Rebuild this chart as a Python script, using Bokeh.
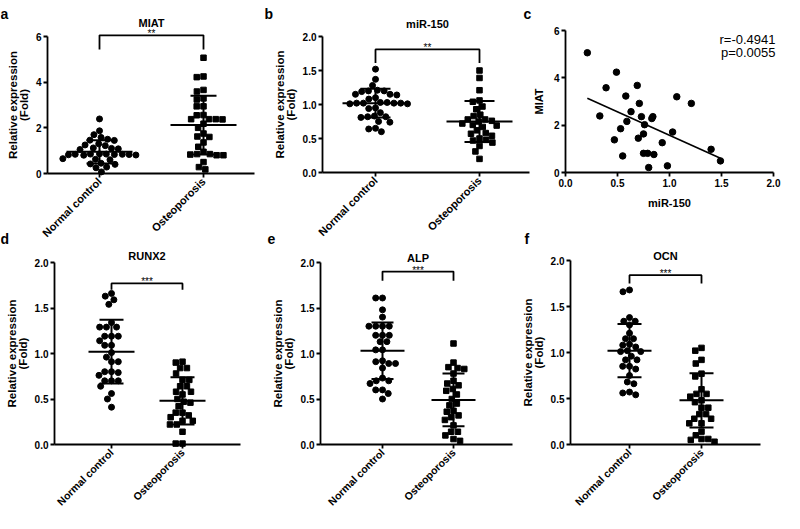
import math
import numpy as np
from bokeh.plotting import figure
from bokeh.layouts import column, row
from bokeh.models import Range1d, Label, FixedTicker, PrintfTickFormatter
from bokeh.embed import file_html
from bokeh.resources import INLINE

FONT = "Liberation Sans"

# ---------------- data ----------------
groups = ["Normal control", "Osteoporosis"]

# a: MIAT
miat_nc = [2.39, 1.87, 1.70, 1.58, 1.50, 1.46, 1.45, 1.30, 1.25, 1.22, 1.12, 1.08, 1.05, 1.10,
           0.86, 0.85, 0.84, 0.83, 0.82, 0.85, 0.81, 0.83, 0.80, 0.84, 0.65, 0.62, 0.60,
           0.45, 0.42, 0.40, 0.28, 0.25, 0.07]
miat_op = [5.07, 4.25, 4.22, 3.66, 3.59, 3.29, 3.24, 2.94, 2.94, 2.56, 2.55, 2.38, 2.38, 2.37,
           2.38, 2.18, 2.00, 1.75, 1.62, 1.60, 1.36, 1.17, 0.95, 0.85, 0.85, 0.83, 0.80, 0.80,
           0.50, 0.28, 0.18]
miat_mean = [0.95, 2.12]
miat_sd = [0.51, 1.29]
miat_bracket = [6.05, 5.43]

# b: miR-150
mir_nc = [1.52, 1.37, 1.28, 1.21, 1.20, 1.20, 1.19, 1.15, 1.15, 1.14, 1.10, 1.08, 1.03, 1.02,
          1.02, 1.01, 1.02, 1.03, 1.02, 1.01, 0.95, 0.94, 0.88, 0.82, 0.82, 0.81, 0.83, 0.75,
          0.74, 0.65, 0.64, 0.60]
mir_op = [1.50, 1.39, 1.21, 1.06, 1.04, 0.97, 0.93, 0.85, 0.83, 0.78, 0.78, 0.76, 0.75, 0.72,
          0.70, 0.69, 0.67, 0.62, 0.58, 0.57, 0.54, 0.50, 0.48, 0.47, 0.44, 0.39, 0.31, 0.20]
mir_mean = [1.02, 0.75]
mir_sd = [0.21, 0.30]
mir_bracket = [1.81, 1.61]

# c: correlation
corr_mir150 = [0.21, 0.49, 0.39, 0.69, 0.58, 1.07, 1.21, 0.71, 0.63, 0.33, 0.73, 0.84, 0.83,
               0.59, 0.76, 0.53, 1.03, 0.75, 0.70, 0.47, 0.93, 1.40, 0.75, 0.79, 0.85, 0.55,
               1.49, 0.98, 0.80]
corr_miat = [5.06, 4.24, 3.58, 3.68, 3.23, 3.20, 2.92, 2.92, 2.57, 2.39, 2.36, 2.36, 2.28,
             2.16, 2.02, 1.85, 1.71, 1.63, 1.45, 1.38, 1.26, 0.98, 0.81, 0.81, 0.76, 0.70,
             0.49, 0.28, 0.21]
corr_text = ["r=-0.4941", "p=0.0055"]

# d: RUNX2
runx2_nc = [1.66, 1.63, 1.59, 1.54, 1.34, 1.29, 1.29, 1.29, 1.19, 1.19, 1.19, 1.14, 1.09, 1.09,
            1.01, 0.96, 0.91, 0.91, 0.80, 0.80, 0.79, 0.76, 0.70, 0.70, 0.70, 0.64, 0.56,
            0.50, 0.41]
runx2_op = [0.91, 0.90, 0.84, 0.84, 0.78, 0.71, 0.71, 0.64, 0.64, 0.58, 0.58, 0.55, 0.50, 0.47,
            0.46, 0.42, 0.35, 0.35, 0.32, 0.30, 0.26, 0.26, 0.22, 0.22, 0.14, 0.01, 0.01]
runx2_mean = [1.02, 0.48]
runx2_sd = [0.35, 0.26]
runx2_bracket = [1.77, 1.70]

# e: ALP
alp_nc = [1.61, 1.61, 1.48, 1.40, 1.30, 1.30, 1.30, 1.30, 1.20, 1.20, 1.20, 1.13, 1.13, 1.04,
          1.04, 0.92, 0.91, 0.89, 0.89, 0.84, 0.73, 0.70, 0.70, 0.67, 0.60, 0.60, 0.56, 0.50]
alp_op = [1.11, 0.90, 0.85, 0.84, 0.83, 0.78, 0.70, 0.67, 0.65, 0.61, 0.59, 0.55, 0.50, 0.45,
          0.43, 0.37, 0.36, 0.32, 0.30, 0.27, 0.21, 0.14, 0.14, 0.10, 0.06, 0.04]
alp_mean = [1.03, 0.49]
alp_sd = [0.31, 0.29]
alp_bracket = [1.90, 1.80]

# f: OCN
ocn_nc = [1.68, 1.66, 1.38, 1.34, 1.34, 1.30, 1.21, 1.15, 1.15, 1.09, 1.08, 1.06, 1.01, 1.01,
          1.02, 0.96, 0.92, 0.92, 0.85, 0.85, 0.82, 0.75, 0.68, 0.66, 0.57, 0.56, 0.54]
ocn_op = [1.05, 1.02, 0.92, 0.88, 0.77, 0.74, 0.60, 0.55, 0.55, 0.52, 0.48, 0.46, 0.40, 0.40,
          0.33, 0.33, 0.28, 0.28, 0.23, 0.23, 0.14, 0.10, 0.06, 0.03, 0.05, 0.06]
ocn_mean = [1.02, 0.48]
ocn_sd = [0.29, 0.295]
ocn_bracket = [1.84, 1.75]

# ---------------- layout (page pixel positions) ----------------
SPEC = {
    "a": dict(fig=(8, 8, 258, 247), L=55, B=181, xref=(1, 107, 2, 211), ymax=6, ytop=44, xend=262),
    "b": dict(fig=(266, 8, 274, 247), L=330, B=180, xref=(1, 383, 2, 487), ymax=2, ytop=44, xend=537),
    "c": dict(fig=(540, 8, 252, 247), L=573, B=180, xref=(0, 573, 2, 781), ymax=6, ytop=38, xend=781),
    "d": dict(fig=(8, 255, 258, 266), L=62, B=452, xref=(1, 119, 2, 190), ymax=2, ytop=270, xend=248),
    "e": dict(fig=(266, 255, 260, 266), L=328, B=452, xref=(1, 390, 2, 461), ymax=2, ytop=270, xend=520),
    "f": dict(fig=(526, 255, 266, 266), L=578, B=452, xref=(1, 637, 2, 709), ymax=2, ytop=268, xend=768),
}


def geom(s):
    v1, p1, v2, p2 = s["xref"]
    kx = (p2 - p1) / (v2 - v1)
    ky = (s["B"] - s["ytop"]) / s["ymax"]
    return dict(kx=kx, ky=ky)


def px2x(s, g, px):
    v1, p1, _, _ = s["xref"]
    return v1 + (px - p1) / g["kx"]


def py2y(s, g, py):
    return (s["B"] - py) / g["ky"]


def style_axis(ax, size="10px"):
    ax.axis_line_width = 1.8
    ax.axis_line_color = "black"
    ax.major_tick_line_width = 1.8
    ax.major_tick_line_color = "black"
    ax.major_tick_out = 4
    ax.major_tick_in = 0
    ax.minor_tick_line_color = None
    ax.major_label_text_font = FONT
    ax.major_label_text_font_style = "bold"
    ax.major_label_text_font_size = size
    ax.major_label_text_color = "black"
    ax.major_label_standoff = 2
    ax.axis_label_text_font = FONT
    ax.axis_label_text_font_style = "bold"
    ax.axis_label_text_color = "black"


def make_fig(key):
    s = SPEC[key]
    g = geom(s)
    fx, fy, fw, fh = s["fig"]
    xr = Range1d(px2x(s, g, fx), px2x(s, g, fx + fw))
    yr = Range1d(py2y(s, g, fy + fh), py2y(s, g, fy))
    p = figure(width=fw, height=fh, x_range=xr, y_range=yr,
               min_border_left=0, min_border_right=0, min_border_top=0,
               min_border_bottom=0, output_backend="svg", toolbar_location=None,
               title=None)
    p.outline_line_color = None
    p.xgrid.visible = False
    p.ygrid.visible = False
    p.background_fill_color = "white"
    p.border_fill_color = "white"
    xa, ya = p.xaxis[0], p.yaxis[0]
    xa.fixed_location = 0
    ya.fixed_location = px2x(s, g, s["L"])
    xa.bounds = (px2x(s, g, s["L"]), px2x(s, g, s["xend"]))
    ya.bounds = (0, s["ymax"])
    style_axis(xa)
    style_axis(ya)
    if s["ymax"] == 6:
        ya.ticker = FixedTicker(ticks=[0, 2, 4, 6])
        ya.formatter = PrintfTickFormatter(format="%d")
    else:
        ya.ticker = FixedTicker(ticks=[0, 0.5, 1.0, 1.5, 2.0])
        ya.formatter = PrintfTickFormatter(format="%.1f")
    return p, s, g


def label(p, s, g, px, py, text, size, bold=True, align="center", baseline="middle"):
    p.add_layout(Label(x=px2x(s, g, px), y=py2y(s, g, py), text=text, text_font=FONT,
                       text_font_size=size, text_font_style="bold" if bold else "normal",
                       text_align=align, text_baseline=baseline, text_color="black"))


def swarm_px(vals, ky, D=6.8):
    ys = np.asarray(vals, dtype=float) * ky
    order = np.argsort(-ys, kind="stable")
    xs = np.zeros(len(ys))
    placed = []
    for i in order:
        y = ys[i]
        forb = []
        for xo, yo in placed:
            dy = abs(y - yo)
            if dy < D:
                w = math.sqrt(D * D - dy * dy)
                forb.append((xo - w, xo + w))
        cands = [0.0] + [a for a, b in forb] + [b for a, b in forb]
        cands.sort(key=lambda c: (abs(c), c))
        for c in cands:
            if all(not (a + 1e-6 < c < b - 1e-6) for a, b in forb):
                xs[i] = c
                break
        placed.append((xs[i], y))
    return xs


def category_panel(key, nc, op, means, sds, bracket, stars, title, title_py, cat_size,
                   mean_half, cap_half):
    p, s, g = make_fig(key)
    xa, ya = p.xaxis[0], p.yaxis[0]
    xa.ticker = FixedTicker(ticks=[1, 2])
    xa.major_label_overrides = {1: "", 2: ""}
    for i, name in enumerate(groups):
        p.add_layout(Label(x=i + 1, y=py2y(s, g, s["B"] + 6), text=name, angle=math.pi / 4,
                           text_font=FONT, text_font_size=cat_size, text_font_style="bold",
                           text_align="right", text_baseline="middle", text_color="black"))
    ya.axis_label = "Relative expression\n(Fold)"
    ya.axis_label_text_font_size = "11.5px"
    ya.axis_label_text_line_height = 0.9
    ya.axis_label_standoff = 3

    for i, vals in enumerate((nc, op)):
        offs = swarm_px(vals, g["ky"]) / g["kx"]
        xs = (i + 1) + offs
        if i == 0:
            p.scatter(xs, vals, marker="circle", size=6, fill_color="black", line_color="black")
        else:
            p.scatter(xs, vals, marker="square", size=5.5, fill_color="black", line_color="black")

    cx = np.array([1.0, 2.0])
    m = np.array(means)
    sd = np.array(sds)
    mh = mean_half / g["kx"]
    ch = cap_half / g["kx"]
    p.segment(cx - mh, m, cx + mh, m, line_width=2, line_color="black")
    p.segment(cx, m - sd, cx, m + sd, line_width=2, line_color="black")
    p.segment(cx - ch, m + sd, cx + ch, m + sd, line_width=2, line_color="black")
    p.segment(cx - ch, m - sd, cx + ch, m - sd, line_width=2, line_color="black")

    top, drop = bracket
    p.line([1, 1, 2, 2], [drop, top, top, drop], line_width=1.8, line_color="black")
    p.add_layout(Label(x=1.5, y=top + 1.5 / g["ky"], text=stars, text_font=FONT,
                       text_font_size="10px", text_align="center", text_baseline="alphabetic",
                       text_color="black"))
    p.add_layout(Label(x=1.5, y=py2y(s, g, title_py), text=title, text_font=FONT,
                       text_font_size="11px", text_font_style="bold", text_align="center",
                       text_baseline="middle", text_color="black"))
    return p, s, g


pa, sa, ga = category_panel("a", miat_nc, miat_op, miat_mean, miat_sd, miat_bracket, "**",
                            "MIAT", 30, "11px", 33, 13)
pb, sb, gb = category_panel("b", mir_nc, mir_op, mir_mean, mir_sd, mir_bracket, "**",
                            "miR-150", 31, "11px", 33, 15)
pd_, sd_, gd = category_panel("d", runx2_nc, runx2_op, runx2_mean, runx2_sd, runx2_bracket,
                              "***", "RUNX2", 263, "10.5px", 23, 12)
pe, se, ge = category_panel("e", alp_nc, alp_op, alp_mean, alp_sd, alp_bracket, "***",
                            "ALP", 265, "10.5px", 22, 11)
pf, sf, gf = category_panel("f", ocn_nc, ocn_op, ocn_mean, ocn_sd, ocn_bracket, "***",
                            "OCN", 263, "10.5px", 22, 12)

# panel c: correlation
pc, sc, gc = make_fig("c")
xa, ya = pc.xaxis[0], pc.yaxis[0]
xa.ticker = FixedTicker(ticks=[0, 0.5, 1.0, 1.5, 2.0])
xa.formatter = PrintfTickFormatter(format="%.1f")
xa.axis_label = "miR-150"
xa.axis_label_text_font_size = "11px"
xa.axis_label_standoff = 7
ya.axis_label = "MIAT"
ya.axis_label_text_font_size = "11px"
ya.axis_label_standoff = 6
pc.scatter(corr_mir150, corr_miat, marker="circle", size=6.5, fill_color="black",
           line_color="black")
slope, icpt = np.polyfit(corr_mir150, corr_miat, 1)
xl = np.array([min(corr_mir150), max(corr_mir150)])
pc.line(xl, slope * xl + icpt, line_width=1.6, line_color="black")
label(pc, sc, gc, 783, 47, corr_text[0], "13px", bold=False, align="right", baseline="alphabetic")
label(pc, sc, gc, 783, 60, corr_text[1], "13px", bold=False, align="right", baseline="alphabetic")

# panel letters (alphabetic baseline, kept inside each canvas)
label(pa, sa, ga, 8, 21, "a", "14px", align="left", baseline="alphabetic")
label(pa, sa, ga, 8, 246, "d", "14px", align="left", baseline="alphabetic")
label(pb, sb, gb, 272, 21, "b", "14px", align="left", baseline="alphabetic")
label(pb, sb, gb, 275, 246, "e", "14px", align="left", baseline="alphabetic")
label(pb, sb, gb, 531, 21, "c", "14px", align="left", baseline="alphabetic")
label(pb, sb, gb, 532, 246, "f", "14px", align="left", baseline="alphabetic")

layout = column(row(pa, pb, pc, spacing=0), row(pd_, pe, pf, spacing=0), spacing=0)

with open("out.html", "w") as fh:
    fh.write(file_html(layout, INLINE))
